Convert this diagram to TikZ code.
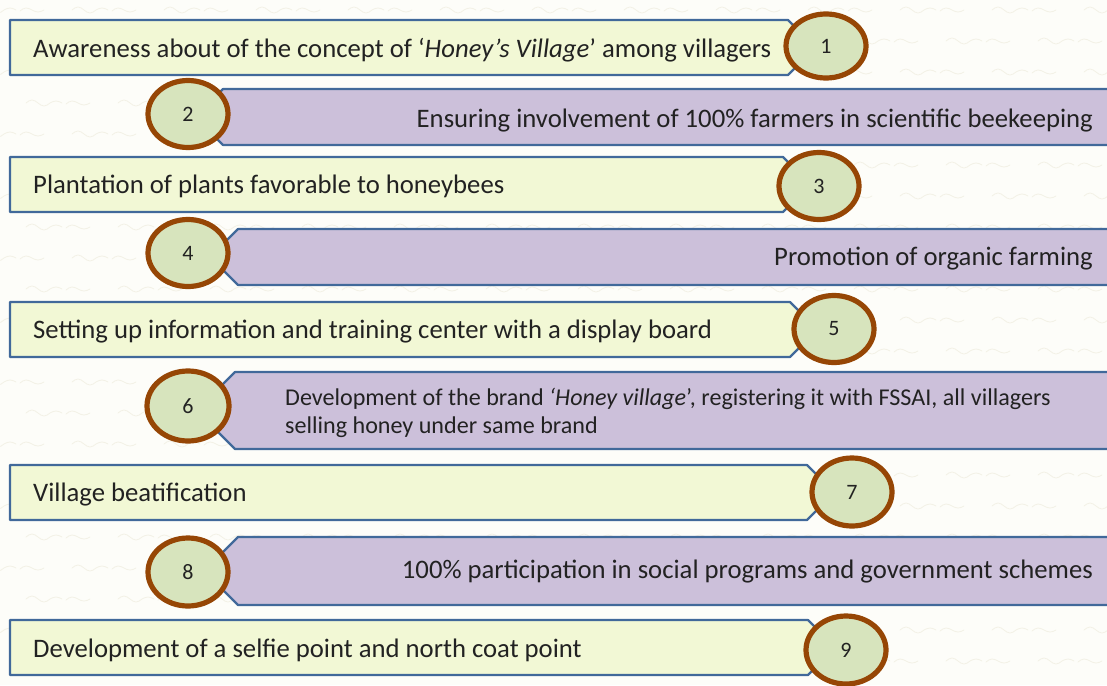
\documentclass[tikz,border=0pt]{standalone}
\usepackage{fontspec}
\setmainfont{Carlito}
\definecolor{bgcream}{HTML}{FDFDF9}
\definecolor{scrib}{HTML}{F3F1E6}
\definecolor{barline}{HTML}{41699A}
\definecolor{yellowfill}{HTML}{F2F8D5}
\definecolor{lilacfill}{HTML}{CCC0DA}
\definecolor{ringline}{HTML}{964605}
\definecolor{ringfill}{HTML}{D7E4BD}
\definecolor{inktext}{HTML}{222222}
\usetikzlibrary{shapes.geometric}
\tikzset{
  yellowbar/.style={draw=barline, line width=2.2pt, fill=yellowfill, line join=round},
  lilacbar/.style={draw=barline, line width=2.2pt, fill=lilacfill, line join=round},
  ring/.style={ellipse, draw=ringline, line width=5.2pt, fill=ringfill,
    minimum width=80pt, minimum height=67pt, inner sep=0pt,
    font=\fontsize{22}{25}\selectfont, text=inktext},
  maintext/.style={font=\fontsize{26.7}{30}\selectfont, text=inktext, inner sep=0pt},
  smalltext/.style={font=\fontsize{24.1}{28}\selectfont, text=inktext, inner sep=0pt},
  scribble/.style={draw=scrib, line width=0.8pt, line cap=round},
}
% yellow step: top, bottom, x of the corner where the point starts
\newcommand\yellowstep[3]{%
  \path[yellowbar] (10,#1) -- (#3,#1) -- ({#3+(#2-#1)/2},{(#1+#2)/2}) -- (#3,#2) -- (10,#2) -- cycle;}
% lilac step: top, bottom, x of the corner where the point starts
\newcommand\lilacstep[3]{%
  \path[lilacbar] (1115,#1) -- (#3,#1) -- ({#3-(#2-#1)/2},{(#1+#2)/2}) -- (#3,#2) -- (1115,#2) -- cycle;}
\begin{document}
\begin{tikzpicture}[x=1pt,y=-1pt]
\useasboundingbox (0,0) rectangle (1107,685);
\fill[bgcream] (0,0) rectangle (1107,685);
% faint paper texture
\begin{scope}
  \clip (0,0) rectangle (1107,685);
  \foreach \r in {0,...,22}{
    \foreach \c in {0,...,12}{
      \pgfmathsetmacro\px{\c*92+mod(\r,2)*46-20}
      \pgfmathsetmacro\py{\r*31+10}
      \path[scribble, shift={(\px pt,-\py pt)}]
        (0,0) sin (6,-3) cos (12,0) sin (18,3) cos (24,0) sin (30,-2) cos (36,0)
        (40,1) sin (46,-2) cos (52,0) sin (58,2) cos (64,0);
    }
  }
\end{scope}

% steps
\yellowstep{20}{75}{788}
\lilacstep{89}{145}{223}
\yellowstep{157}{212}{783}
\lilacstep{229}{285}{238}
\yellowstep{302}{357}{790}
\lilacstep{372}{449}{235}
\yellowstep{465}{520}{807}
\lilacstep{537}{605}{238}
\yellowstep{620}{675}{808}

% texts
\node[maintext, anchor=base west] (s1) at (33,57)
  {Awareness about of the concept of ‘\textit{Honey’s Village}’ among villagers};
\node[maintext, anchor=base east] (s2) at (1093,127)
  {Ensuring involvement of 100\% farmers in scientific beekeeping};
\node[maintext, anchor=base west] (s3) at (33,193)
  {Plantation of plants favorable to honeybees};
\node[maintext, anchor=base east] (s4) at (1093,265)
  {Promotion of organic farming};
\node[maintext, anchor=base west] (s5) at (33,338)
  {Setting up information and training center with a display board};
\node[smalltext, anchor=base west] (s6a) at (285,405)
  {Development of the brand \textit{‘Honey village}’, registering it with FSSAI, all villagers};
\node[smalltext, anchor=base west] (s6b) at (285,433)
  {selling honey under same brand};
\node[maintext, anchor=base west] (s7) at (33,501)
  {Village beatification};
\node[maintext, anchor=base east] (s8) at (1093,578)
  {100\% participation in social programs and government schemes};
\node[maintext, anchor=base west] (s9) at (33,657)
  {Development of a selfie point and north coat point};

% numbered rings
\node[ring, minimum height=64pt] (n1) at (826,46) {1};
\node[ring] (n2) at (188,114) {2};
\node[ring] (n3) at (819,186) {3};
\node[ring] (n4) at (188,253) {4};
\node[ring] (n5) at (834,329) {5};
\node[ring, minimum width=82pt, minimum height=70pt] (n6) at (188,406) {6};
\node[ring, minimum height=68pt] (n7) at (852,492) {7};
\node[ring, minimum height=68pt] (n8) at (188,572) {8};
\node[ring, minimum height=68pt] (n9) at (846,650) {9};
\end{tikzpicture}
\end{document}
